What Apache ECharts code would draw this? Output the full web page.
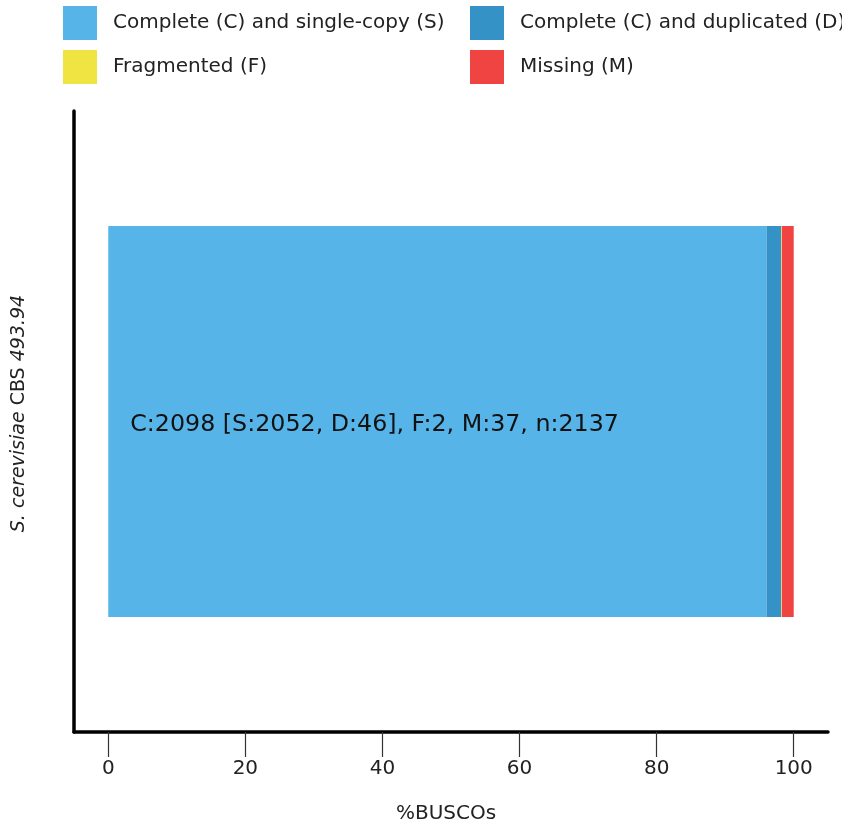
<!DOCTYPE html>
<html>
<head>
<meta charset="utf-8">
<script src="https://cdn.jsdelivr.net/npm/echarts@6/dist/echarts.min.js"></script>
<style>html,body{margin:0;padding:0;background:#fff;}#chart{width:842px;height:826px;}</style>
</head>
<body>
<div id="chart"></div>
<script>
const categories = [''];
const seriesNames = ['Complete (C) and single-copy (S)', 'Complete (C) and duplicated (D)', 'Fragmented (F)', 'Missing (M)'];
const seriesColors = ['#56B4E9', '#3492C7', '#F0E442', '#F04442'];
const countS = [2052];
const countD = [46];
const countF = [2];
const countM = [37];
const totalN = [2137];
const xTicks = [0, 20, 40, 60, 80, 100];

const counts = [countS, countD, countF, countM];
const pct = counts.map(arr => arr.map((v, i) => v / totalN[i] * 100));
const labelText = 'C:' + (countS[0] + countD[0]) + ' [S:' + countS[0] + ', D:' + countD[0] + '], F:' + countF[0] + ', M:' + countM[0] + ', n:' + totalN[0];

const chart = echarts.init(document.getElementById('chart'));
const legendText = { color: '#222', fontSize: 20, fontFamily: 'DejaVu Sans', padding: [6, 0, 0, 11] };
chart.setOption({
  animation: false,
  textStyle: { fontFamily: 'DejaVu Sans' },
  legend: [
    { data: [seriesNames[0], seriesNames[2]], orient: 'vertical', left: 63, top: 6, padding: 0, itemWidth: 34, itemHeight: 34, itemGap: 10, icon: 'rect', textStyle: legendText, selectedMode: false },
    { data: [seriesNames[1], seriesNames[3]], orient: 'vertical', left: 470, top: 6, padding: 0, itemWidth: 34, itemHeight: 34, itemGap: 10, icon: 'rect', textStyle: legendText, selectedMode: false }
  ],
  grid: { left: 74, top: 111, width: 754, height: 621, containLabel: false, outerBoundsMode: 'none' },
  xAxis: {
    type: 'value', min: -5, max: 105,
    name: '%BUSCOs', nameLocation: 'middle', nameGap: 72,
    nameTextStyle: { color: '#222', fontSize: 20, fontFamily: 'DejaVu Sans', padding: [0, 10, 0, 0] },
    axisLine: { show: true, onZero: false, lineStyle: { color: '#000', width: 3.5 } },
    axisTick: { show: true, length: 25, customValues: xTicks, lineStyle: { color: '#333', width: 1.2 } },
    axisLabel: { customValues: xTicks, margin: 27, color: '#222', fontSize: 20, fontFamily: 'DejaVu Sans' },
    splitLine: { show: false }
  },
  yAxis: {
    type: 'category', data: categories,
    name: '{i|S. cerevisiae} CBS {i|493.94}', nameLocation: 'middle', nameRotate: 90, nameGap: 45,
    nameTextStyle: { color: '#222', fontSize: 19, fontFamily: 'DejaVu Sans', padding: [0, 0, 0, 16],
      rich: { i: { fontStyle: 'italic', fontSize: 19, color: '#222', fontFamily: 'DejaVu Sans' } } },
    axisLine: { show: true, onZero: false, lineStyle: { color: '#000', width: 3.5 } },
    axisTick: { show: false },
    axisLabel: { show: false },
    splitLine: { show: false }
  },
  series: seriesNames.map((name, k) => ({
    name: name, type: 'bar', stack: 'busco', barWidth: '63%',
    itemStyle: { color: seriesColors[k] },
    data: pct[k],
    label: k === 0 ? { show: true, position: 'insideLeft', distance: 22, offset: [0, 3], formatter: labelText, fontSize: 23.75, color: '#111', fontFamily: 'DejaVu Sans' } : { show: false }
  }))
});
</script>
</body>
</html>
